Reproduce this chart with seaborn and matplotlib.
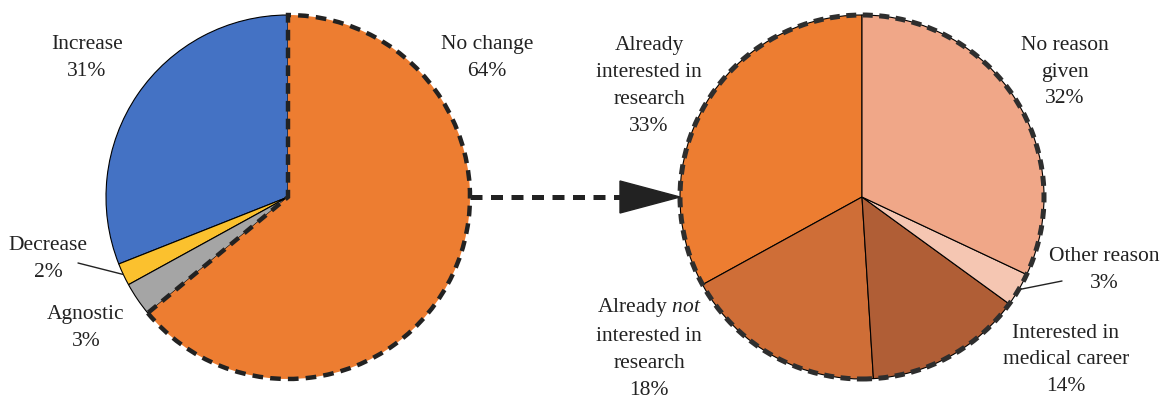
import numpy as np
import seaborn as sns
import matplotlib.pyplot as plt
from matplotlib.patches import Circle, Polygon

# Data ########################################################################
left_labels = ["Increase", "Decrease", "Agnostic", "No change"]
left_values = [31, 2, 3, 64]
left_colors = ["#4472C4", "#FBC12E", "#A5A5A5", "#ED7D31"]

right_labels = ["Already\ninterested in\nresearch",
                "Already $\\mathit{not}$\ninterested in\nresearch",
                "Interested in\nmedical career",
                "Other reason",
                "No reason\ngiven"]
right_values = [33, 18, 14, 3, 32]
right_colors = ["#ED7D31", "#CF6E37", "#B05E36", "#F5C6B2", "#F0A788"]

# Layout (pixel coords, y measured from top) ##################################
W, H = 1164, 400
R = 182
left_c = (288, 197)
right_c = (862, 197)

# label centres for each wedge
left_pos = [(87, 58), (48, 259), (86, 328), (487, 58)]
right_pos = [(649, 86), (649, 348), (1066, 360), (1104, 270), (1065, 72)]

sns.set_theme(style="white")
plt.rcParams["font.family"] = ["Liberation Serif", "DejaVu Serif"]
plt.rcParams["mathtext.fontset"] = "custom"
plt.rcParams["mathtext.rm"] = "Liberation Serif"
plt.rcParams["mathtext.it"] = "Liberation Serif:italic"

fig = plt.figure(figsize=(W / 100, H / 100), dpi=100)
ax = fig.add_axes([0, 0, 1, 1])


def yy(y):
    return H - y


dash = (0, (2.4, 1.6))

# Left pie
lw, _ = ax.pie(left_values, colors=left_colors, startangle=90,
               counterclock=True, radius=R, center=(left_c[0], yy(left_c[1])),
               wedgeprops=dict(edgecolor="black", linewidth=0.8))
lw[3].set_edgecolor("#222222")
lw[3].set_linestyle(dash)
lw[3].set_linewidth(3.2)
lw[3].set_zorder(3)

# Right pie
rw, _ = ax.pie(right_values, colors=right_colors, startangle=90,
               counterclock=True, radius=R, center=(right_c[0], yy(right_c[1])),
               wedgeprops=dict(edgecolor="black", linewidth=0.8))
ax.add_patch(Circle((right_c[0], yy(right_c[1])), R, fill=False,
                    edgecolor="#2e2e2e", linewidth=3.6,
                    linestyle=(0, (2.0, 1.3)), zorder=4))

# Connector arrow
x0 = left_c[0] + R
x1 = right_c[0] - R
ya = yy(left_c[1])
ax.plot([x0, x1 - 58], [ya, ya], color="#222222", lw=3.6,
        linestyle=(0, (2.4, 1.7)), solid_capstyle="butt", zorder=2)
ax.add_patch(Polygon([(x1 - 60, ya + 16), (x1 - 60, ya - 16), (x1, ya)],
                     closed=True, color="#222222", zorder=5))

fs = 15.5
ls = 1.55
for lab, val, (px, py) in zip(left_labels, left_values, left_pos):
    ax.text(px, yy(py), f"{lab}\n{val}%", ha="center", va="center",
            fontsize=fs, color="#222222", linespacing=ls)
for lab, val, (px, py) in zip(right_labels, right_values, right_pos):
    ax.text(px, yy(py), f"{lab}\n{val}%", ha="center", va="center",
            fontsize=fs, color="#222222", linespacing=ls)


def edge_point(w, c):
    a = np.deg2rad((w.theta1 + w.theta2) / 2)
    return c[0] + w.r * np.cos(a), yy(c[1]) + w.r * np.sin(a)


# leader lines for the small slices
ax.plot(*zip((78, yy(263)), edge_point(lw[1], left_c)), color="#222222", lw=1.0)
ax.plot(*zip((1062, yy(281)), edge_point(rw[3], right_c)), color="#222222", lw=1.0)

ax.set_xlim(0, W)
ax.set_ylim(0, H)
ax.set_aspect("auto")
ax.axis("off")

plt.savefig("out.png", dpi=100)
